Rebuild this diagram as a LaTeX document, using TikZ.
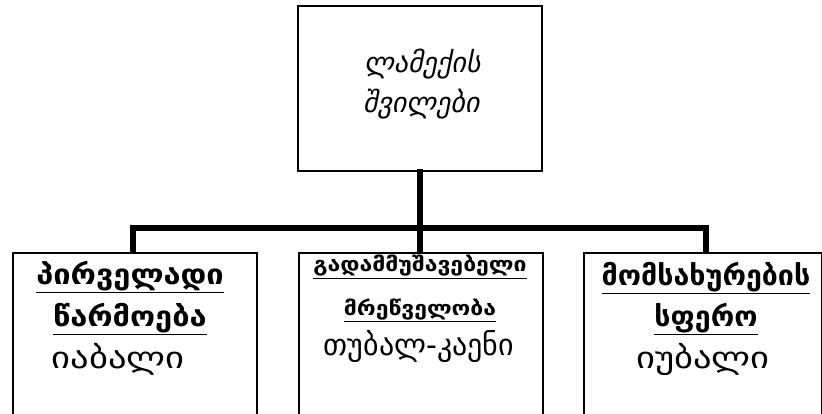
\documentclass[tikz,border=0pt]{standalone}
\usepackage{fontspec}
\setmainfont{DejaVu Sans}
\newfontfamily\geo[FakeStretch=1.22]{DejaVu Sans}
\newfontfamily\geon{DejaVu Sans}
\newfontfamily\geoit[FakeSlant=0.2]{DejaVu Sans}
\newfontfamily\geobf[FakeStretch=1.1]{DejaVu Sans Bold}
\newfontfamily\geobfr[FakeStretch=1.02]{DejaVu Sans Bold}
\newfontfamily\geobfm[FakeStretch=1.15]{DejaVu Sans Bold}
\begin{document}
\begin{tikzpicture}[x=1pt,y=-1pt,
  box/.style={draw=black,line width=1.6pt,fill=white},
  conn/.style={draw=black,line width=5.5pt},
  head/.style={anchor=base,inner sep=0pt,font=\geobf\fontsize{28}{32}\selectfont},
  headr/.style={anchor=base,inner sep=0pt,font=\geobfr\fontsize{28}{32}\selectfont},
  headsm/.style={anchor=base,inner sep=0pt,font=\geobfm\fontsize{20}{24}\selectfont},
  plain/.style={anchor=base,inner sep=0pt,font=\geo\fontsize{30}{34}\selectfont},
  plainn/.style={anchor=base,inner sep=0pt,font=\geon\fontsize{30}{34}\selectfont},
  topt/.style={anchor=base,inner sep=0pt,font=\geoit\fontsize{28}{32}\selectfont}]
\useasboundingbox (0,0) rectangle (822,414);
\clip (0,0) rectangle (822,414);
\fill[white] (0,0) rectangle (822,414);
% connectors
\coordinate (hl) at (133,228);
\coordinate (hr) at (706,228);
\coordinate (hm) at (420,228);
\node[box,minimum width=244pt,minimum height=165pt,anchor=north west] (top) at (297,5) {};
\node[box,minimum width=244pt,minimum height=180pt,anchor=north west] (b1) at (12,252) {};
\node[box,minimum width=244pt,minimum height=180pt,anchor=north west] (b2) at (298,252) {};
\node[box,minimum width=238pt,minimum height=180pt,anchor=north west] (b3) at (583,252) {};
\draw[conn,line cap=rect] (top.south -| hm) -- (hm);
\draw[conn,line join=miter] (b1.north -| hl) -- (hl) -- (hr) -- (b3.north -| hr);
\draw[conn] (hm) -- (b2.north -| hm);
% text
\node[topt] (t1) at (422,73) {ლამექის};
\node[topt] (t2) at (421,113) {შვილები};
\node[head] (l1) at (130,284) {\underline{პირველადი}};
\node[head] (l2) at (130,326) {\underline{წარმოება}};
\node[plain] (l3) at (118,368) {იაბალი};
\node[headsm] (m1) at (420,272) {\underline{გადამმუშავებელი}};
\node[headsm] (m2) at (420,315) {\underline{მრეწველობა}};
\node[plainn] (m3) at (419,355) {თუბალ-კაენი};
\node[headr] (r1) at (706,285) {\underline{მომსახურების}};
\node[headr] (r2) at (706,326) {\underline{სფერო}};
\node[plain] (r3) at (703,368) {იუბალი};
\end{tikzpicture}
\end{document}
